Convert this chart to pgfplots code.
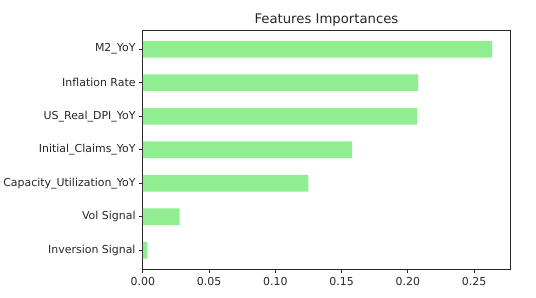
\documentclass[border=0pt]{standalone}
\usepackage{pgfplots}
\pgfplotsset{compat=1.18}
\usepackage{fontspec}
\setmainfont{DejaVu Sans}
\definecolor{lgreen}{HTML}{90EE90}
\definecolor{spine}{HTML}{262626}
\begin{document}
\begin{tikzpicture}
\begin{axis}[
  name=ax,
  scale only axis,
  width=367.7bp, height=240bp,
  xbar, bar width=0.5, bar shift=0,
  xmin=0, xmax=0.2771,
  ymin=-0.575, ymax=6.575,
  ytick={0,1,2,3,4,5,6},
  yticklabels={Inversion Signal,Vol Signal,Capacity\_Utilization\_YoY,Initial\_Claims\_YoY,US\_Real\_DPI\_YoY,Inflation Rate,M2\_YoY},
  xtick={0,0.05,0.1,0.15,0.2,0.25},
  xticklabel style={/pgf/number format/fixed, /pgf/number format/fixed zerofill, /pgf/number format/precision=2},
  /pgf/number format/assume math mode=true,
  tick label style={font=\fontsize{11}{13}\selectfont, text=spine},
  tick align=outside,
  major tick length=3.8bp,
  tick style={spine, line width=0.88bp},
  xtick pos=bottom, ytick pos=left,
  axis line style={spine, line width=0.88bp},
  title={Features Importances},
  title style={font=\fontsize{13.3}{15}\selectfont, text=spine, yshift=-5.5bp},
  yticklabel style={xshift=0bp},
]
\addplot[fill=lgreen, draw=none] coordinates {
  (0.0035,0) (0.0277,1) (0.125,2) (0.158,3) (0.2068,4) (0.2078,5) (0.2635,6)
};
\end{axis}
\path ([xshift=-142.3bp,yshift=-28bp]ax.south west) rectangle ([xshift=26bp,yshift=30bp]ax.north east);
\end{tikzpicture}
\end{document}
